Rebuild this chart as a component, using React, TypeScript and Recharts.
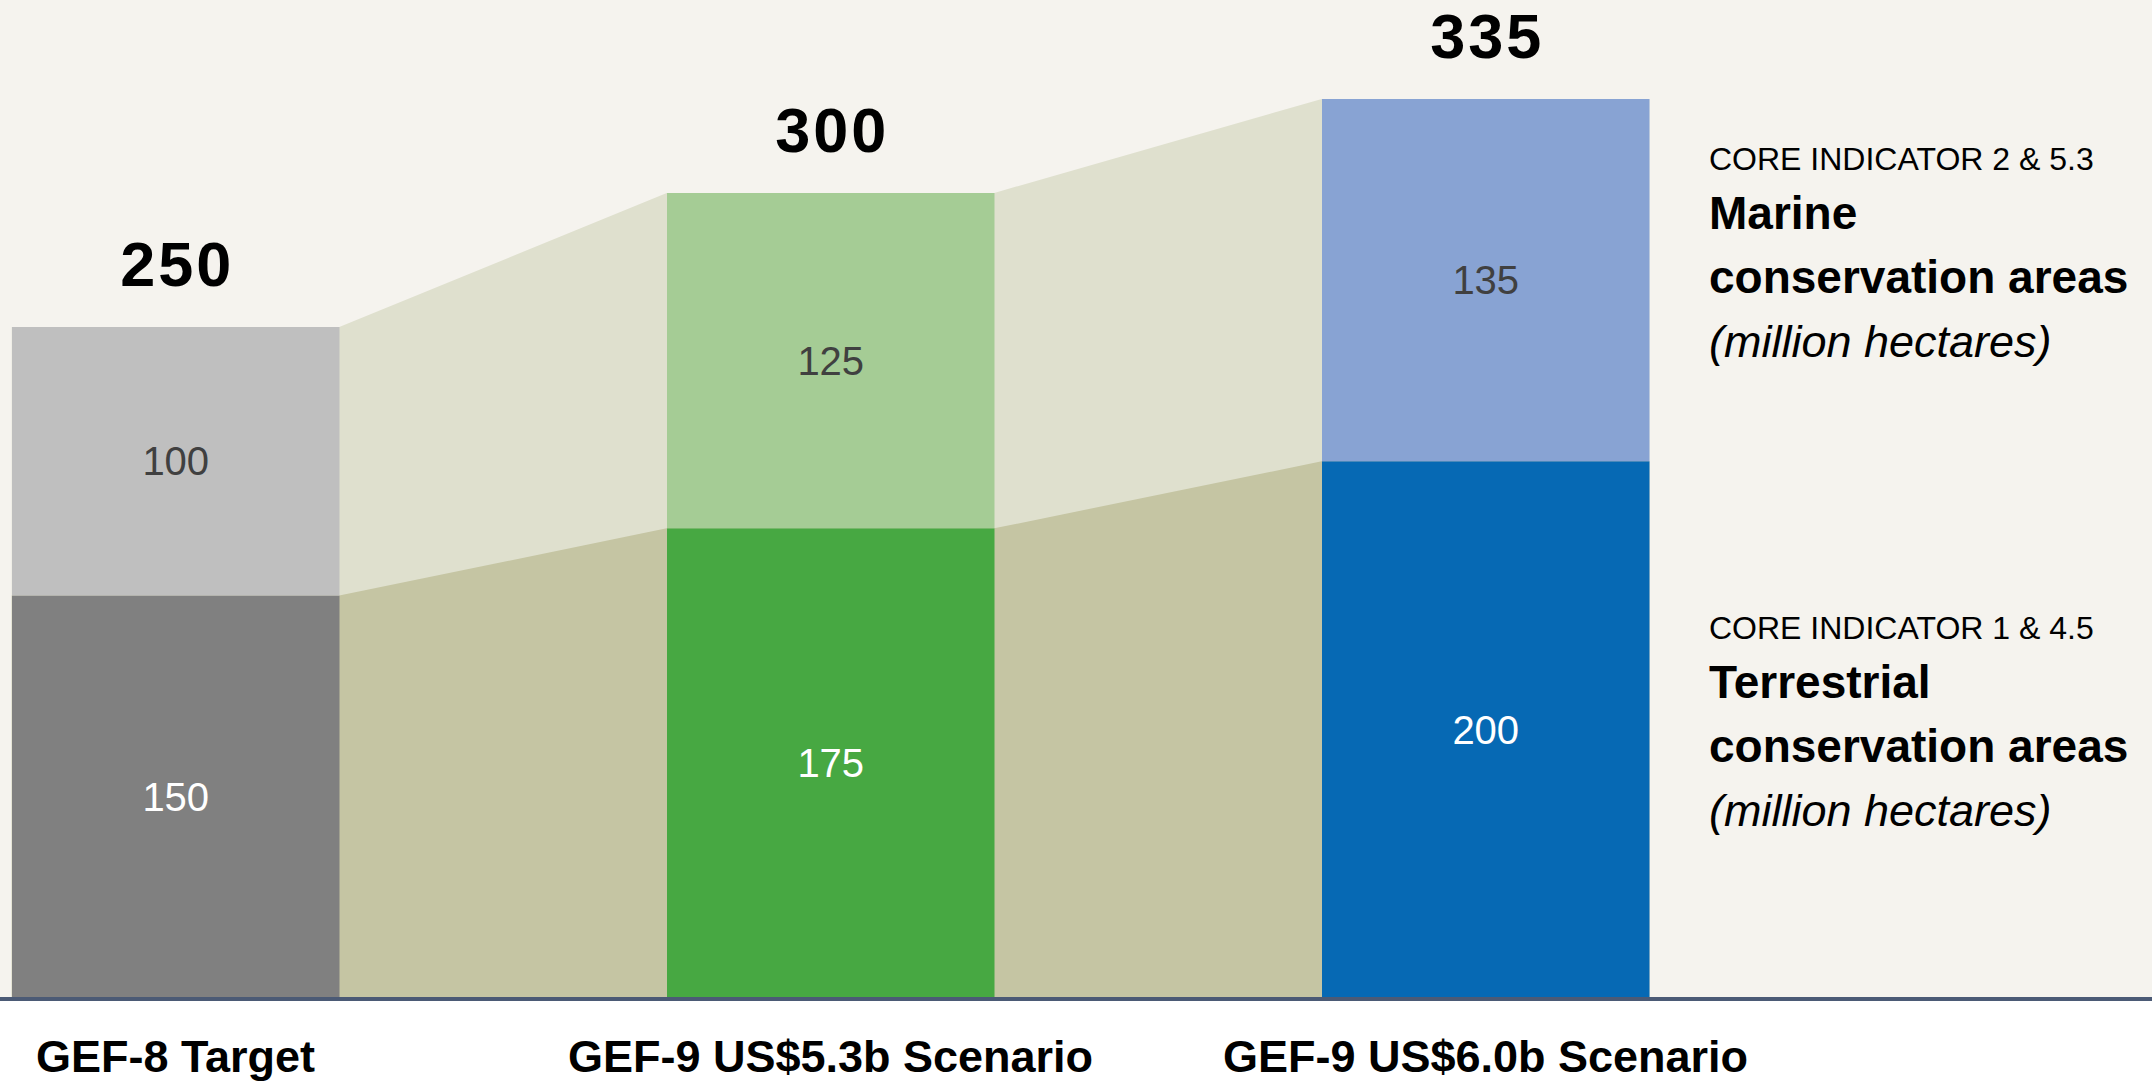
import React from 'react';
import { ComposedChart, Bar, Area, XAxis, YAxis, Cell, LabelList } from 'recharts';

// ---- data ----
const categories = ['GEF-8 Target', 'GEF-9 US$5.3b Scenario', 'GEF-9 US$6.0b Scenario'];
const terrestrialValues = [150, 175, 200];
const marineValues = [100, 125, 135];
const terrestrialColors = ['#808080', '#47a842', '#0669b4'];
const marineColors = ['#bfbfbf', '#a5cc95', '#88a3d3'];
const marineLegend = ['CORE INDICATOR 2 & 5.3', 'Marine', 'conservation areas', '(million hectares)'];
const terrestrialLegend = ['CORE INDICATOR 1 & 4.5', 'Terrestrial', 'conservation areas', '(million hectares)'];

// ---- layout / style ----
const BAND = 655;
const BAR_FRACTION = 0.5;
const CHART_LEFT = -152.5;
const PLOT_TOP = 99;
const AXIS_H = 86;
const H = 1084;
const W = 2152;
const BG = '#f5f3ee';
const CONNECT_LIGHT = '#dfe0ce';
const CONNECT_DARK = '#c5c5a3';
const AXIS_COLOR = '#4b5a75';
const SANS = "'Liberation Sans', Arial, Helvetica, sans-serif";

const totals = terrestrialValues.map((t, i) => t + marineValues[i]);
const maxTotal = Math.max(...totals);

const data = categories.map((name, i) => ({
  name,
  terrestrial: terrestrialValues[i],
  marine: marineValues[i],
  total: totals[i],
}));

// connector polygon vertices at the bar edges (category index +/- half bar width)
const connectorRows = categories.flatMap((_, i) =>
  [i - BAR_FRACTION / 2, i + BAR_FRACTION / 2].map((pos) => ({
    pos,
    terrestrial: terrestrialValues[i],
    total: totals[i],
  }))
);

const makeSegLabel = (colors: string[]) => (props: any) => {
  const { x, y, width, height, value, index } = props;
  return (
    <text
      x={Number(x) + Number(width) / 2}
      y={Number(y) + Number(height) / 2}
      dy={14}
      textAnchor="middle"
      fill={colors[index]}
      fontSize={40}
      fontFamily={SANS}
    >
      {value}
    </text>
  );
};

const terrestrialLabelColors = ['#ffffff', '#ffffff', '#ffffff'];
const marineLabelColors = ['#404040', '#404040', '#404040'];

const TotalLabel = (props: any) => {
  const { x, y, width, value } = props;
  return (
    <text
      x={Number(x) + Number(width) / 2 + 1.5}
      y={Number(y) - 41}
      textAnchor="middle"
      fill="#000"
      fontSize={63}
      fontWeight={700}
      letterSpacing={3}
      fontFamily={SANS}
    >
      {value}
    </text>
  );
};

const CategoryTick = (props: any) => {
  const { x, payload } = props;
  return (
    <text x={x} y={1072} textAnchor="middle" fill="#000" fontSize={45} fontWeight={700} fontFamily={SANS}>
      {payload.value}
    </text>
  );
};

const legendBlock = (lines: string[], x: number, y0: number) => {
  const offs = [0, 59, 123, 187];
  return lines.map((ln, i) => (
    <text
      key={i}
      x={x}
      y={y0 + offs[i]}
      fill="#000"
      fontFamily={SANS}
      fontSize={i === 0 ? 32 : i === 3 ? 45 : 46}
      fontWeight={i === 1 || i === 2 ? 700 : 400}
      fontStyle={i === 3 ? 'italic' : 'normal'}
    >
      {ln}
    </text>
  ));
};

export default function App() {
  return (
    <div
      style={{
        position: 'absolute',
        left: 0,
        top: 0,
        width: W,
        height: H,
        overflow: 'hidden',
        background: `linear-gradient(to bottom, ${BG} 0px, ${BG} 998px, #ffffff 998px)`,
      }}
    >
      <div style={{ position: 'absolute', left: CHART_LEFT, top: 0 }}>
        <ComposedChart
          width={BAND * categories.length}
          height={H}
          data={data}
          margin={{ top: PLOT_TOP, right: 0, bottom: 0, left: 0 }}
        >
          <XAxis
            xAxisId="cat"
            dataKey="name"
            type="category"
            height={AXIS_H}
            axisLine={false}
            tickLine={false}
            interval={0}
            tick={<CategoryTick />}
          />
          <XAxis xAxisId="pos" dataKey="pos" type="number" domain={[-0.5, categories.length - 0.5]} hide />
          <YAxis type="number" domain={[0, maxTotal]} hide />
          <Area
            xAxisId="pos"
            data={connectorRows}
            dataKey="total"
            type="linear"
            stroke="none"
            fill={CONNECT_LIGHT}
            fillOpacity={1}
            dot={false}
            activeDot={false}
            isAnimationActive={false}
          />
          <Area
            xAxisId="pos"
            data={connectorRows}
            dataKey="terrestrial"
            type="linear"
            stroke="none"
            fill={CONNECT_DARK}
            fillOpacity={1}
            dot={false}
            activeDot={false}
            isAnimationActive={false}
          />
          <Bar xAxisId="cat" dataKey="terrestrial" stackId="s" barSize={BAND * BAR_FRACTION} isAnimationActive={false}>
            {data.map((_, i) => (
              <Cell key={i} fill={terrestrialColors[i]} />
            ))}
            <LabelList dataKey="terrestrial" content={makeSegLabel(terrestrialLabelColors)} />
          </Bar>
          <Bar xAxisId="cat" dataKey="marine" stackId="s" barSize={BAND * BAR_FRACTION} isAnimationActive={false}>
            {data.map((_, i) => (
              <Cell key={i} fill={marineColors[i]} />
            ))}
            <LabelList dataKey="marine" content={makeSegLabel(marineLabelColors)} />
            <LabelList dataKey="total" content={<TotalLabel />} />
          </Bar>
        </ComposedChart>
      </div>
      <div style={{ position: 'absolute', left: 0, top: 997, width: W, height: 4, background: AXIS_COLOR }} />
      <svg style={{ position: 'absolute', left: 0, top: 0, pointerEvents: 'none' }} width={W} height={H}>
        {legendBlock(marineLegend, 1709, 170)}
        {legendBlock(terrestrialLegend, 1709, 639)}
      </svg>
    </div>
  );
}
